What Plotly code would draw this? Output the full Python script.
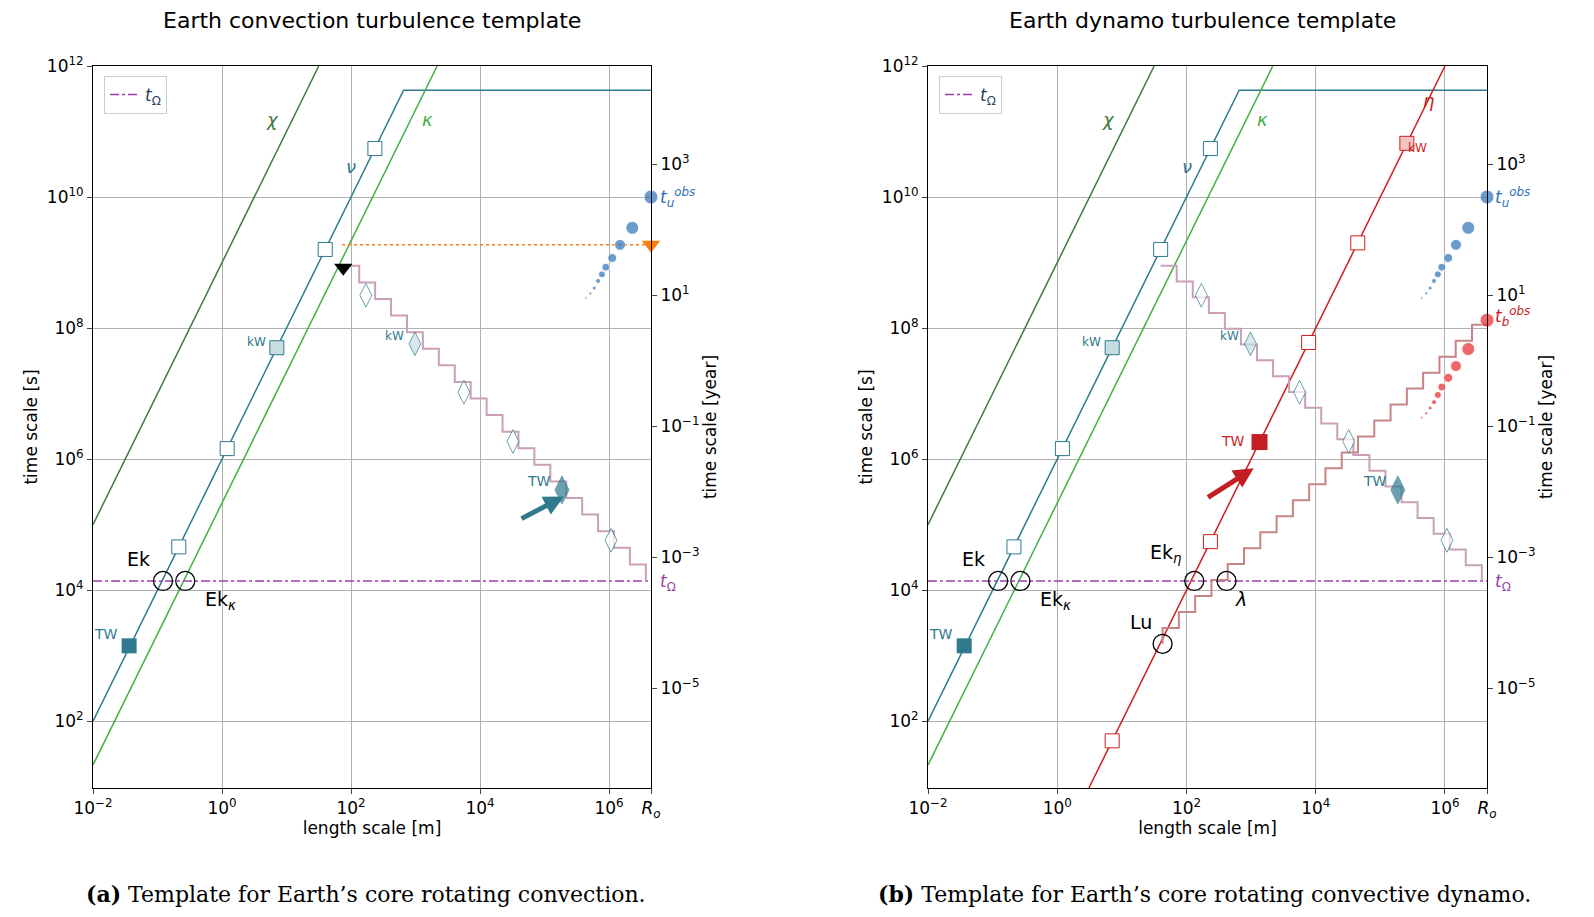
import plotly.graph_objects as go
import numpy as np

# ---- data (log10 values) ----
XMIN, XMAX = -2.0, 6.65
YMIN, YMAX = 0.98, 12.0
LOG_YEAR = 7.499
log_chi, log_nu, log_kappa, log_eta = -9.0, -6.0, -5.33, 0.0
t_sat = 11.63            # upper plateau of nu line
t_omega = 4.14
nu_sq_L = [2.37, 1.60, 0.85, 0.08, -0.67]
tw_sq = (-1.44, 3.15)
eta_sq_L = [0.85, 2.37, 3.89, 4.65, 5.41]
tw_eta = (3.13, 6.26)
dia_L = [2.23, 2.99, 3.75, 4.51, 5.27, 6.03]
dia_t = [8.50, 7.76, 7.02, 6.27, 5.53, 4.76]
obs_L = [6.65, 6.36, 6.17, 6.05, 5.95, 5.89, 5.83, 5.77, 5.71, 5.64]
obs_u_t = [10.0, 9.53, 9.27, 9.07, 8.93, 8.82, 8.72, 8.61, 8.53, 8.46]
obs_b_t = [8.12, 7.68, 7.42, 7.24, 7.10, 6.98, 6.87, 6.78, 6.70, 6.63]
obs_size = [14, 13, 11, 9, 8, 7, 5, 4, 3, 2.5]
tri_black = (1.88, 8.92)
t_orange = 9.27
stair_down_L = (1.88, 6.57)
stair_down_R = (1.60, 6.57)
stair_down_t = (8.95, 4.14)
stair_up = ((1.63, 3.18), (6.67, 8.05))
circ_left = [(-0.915, t_omega), (-0.57, t_omega)]
circ_right = [(-0.915, t_omega), (-0.57, t_omega), (2.12, t_omega), (2.62, t_omega), (1.63, 3.18)]

TEAL = "#2f7a8c"; DGREEN = "#3d7a3d"; LGREEN = "#44b044"; RED = "#cc1f1f"
PURPLE = "#9b3fa8"; BLUE = "#2f72b8"; ORANGE = "#ff7f0e"

W, H = 1594, 917

def P(v):
    return [10**a for a in v]

def stairs(a, b, step=0.25):
    (x0, y0), (x1, y1) = a, b
    n = int(round(abs(x1 - x0) / step))
    xs, ys = [], []
    for i in range(n + 1):
        xs.append(x0 + (x1 - x0) * i / n); ys.append(y0 + (y1 - y0) * i / n)
    return P(xs), P(ys)

fig = go.Figure()

def add_panel(xa, ya, right):
    xr = "x" if xa == 1 else "x%d" % xa
    yr = "y" if ya == 1 else "y%d" % ya
    off = 835 if right else 0
    def tr(**k):
        fig.add_trace(go.Scatter(xaxis=xr, yaxis=yr, showlegend=False, **k))
    tr(x=P([XMIN, (YMAX + log_chi) / 2]), y=P([2*XMIN - log_chi, YMAX]), mode="lines", line=dict(color=DGREEN, width=1.5))
    Lsat = (t_sat + log_nu) / 2
    tr(x=P([XMIN, Lsat, XMAX]), y=P([2*XMIN - log_nu, t_sat, t_sat]), mode="lines", line=dict(color=TEAL, width=1.5))
    tr(x=P([XMIN, (YMAX + log_kappa) / 2]), y=P([2*XMIN - log_kappa, YMAX]), mode="lines", line=dict(color=LGREEN, width=1.5))
    if right:
        tr(x=P([(YMIN + log_eta) / 2, (YMAX + log_eta) / 2]), y=P([YMIN, YMAX]), mode="lines", line=dict(color=RED, width=1.5))
    fig.add_trace(go.Scatter(xaxis=xr, yaxis=yr, x=P([XMIN, XMAX]), y=P([t_omega, t_omega]), mode="lines",
                             line=dict(color=PURPLE, width=1.5, dash="dashdot"), name="<i>t</i><sub>Ω</sub>",
                             showlegend=True, legend="legend2" if right else "legend"))
    sL = stair_down_R if right else stair_down_L
    sx, sy = stairs((sL[0], stair_down_t[0]), (sL[1], stair_down_t[1]))
    tr(x=sx, y=sy, mode="lines", line=dict(color="#c9a0b8", width=2, shape="hv"))
    if right:
        sx, sy = stairs(*stair_up)
        tr(x=sx, y=sy, mode="lines", line=dict(color="#c58585", width=2, shape="vh"))
    tr(x=P(nu_sq_L), y=P([2*l - log_nu for l in nu_sq_L]), mode="markers",
       marker=dict(symbol="square", size=14, color=["white", "white", "#c8dde2", "white", "white"], line=dict(color=TEAL, width=1)))
    tr(x=P([tw_sq[0]]), y=P([tw_sq[1]]), mode="markers", marker=dict(symbol="square", size=15, color=TEAL))
    tr(x=P(dia_L), y=P(dia_t), mode="markers",
       marker=dict(symbol="diamond-tall", size=[17, 17, 17, 17, 20, 17],
                   color=["white", "#c8dde2", "white", "white", TEAL, "white"], line=dict(color=TEAL, width=1)))
    if not right:
        tr(x=P([tri_black[0]]), y=P([tri_black[1]]), mode="markers", marker=dict(symbol="triangle-down", size=16, color="black"))
        tr(x=P([1.86, XMAX]), y=P([t_orange, t_orange]), mode="lines", line=dict(color=ORANGE, width=1.5, dash="dot"))
        tr(x=P([XMAX]), y=P([t_orange]), mode="markers", marker=dict(symbol="triangle-down", size=16, color=ORANGE), cliponaxis=False)
    else:
        tr(x=P(eta_sq_L), y=P([2*l - log_eta for l in eta_sq_L]), mode="markers",
           marker=dict(symbol="square", size=14, color=["white"]*4 + ["#f2c4c4"], line=dict(color=RED, width=1)))
        tr(x=P([tw_eta[0]]), y=P([tw_eta[1]]), mode="markers", marker=dict(symbol="square", size=16, color="#c41e24"))
        tr(x=P(obs_L), y=P(obs_b_t), mode="markers", marker=dict(size=obs_size, color="#e8262a"), cliponaxis=False)
    tr(x=P(obs_L), y=P(obs_u_t), mode="markers", marker=dict(size=obs_size, color=BLUE), cliponaxis=False)
    circ = circ_right if right else circ_left
    tr(x=P([c[0] for c in circ]), y=P([c[1] for c in circ]), mode="markers",
       marker=dict(symbol="circle-open", size=19, color="black", line=dict(width=1.3)))
    def ann(x, y, text, color="black", size=17, **k):
        fig.add_annotation(xref=xr, yref=yr, x=x, y=y, text=text, showarrow=False,
                           font=dict(color=color, size=size, family="DejaVu Sans"), **k)
    def pann(px, py, text, color, size=17):
        fig.add_annotation(xref="paper", yref="paper", x=(px + off) / W, y=1 - py / H, text=text, showarrow=False,
                           xanchor="left", yanchor="middle", font=dict(color=color, size=size, family="DejaVu Sans"))
    ann(0.79, 11.18, "<i>χ</i>", DGREEN, 18)
    ann(2.0, 10.47, "<i>ν</i>", TEAL, 18)
    ann(3.18, 11.18, "<i>κ</i>", LGREEN, 18)
    ann(0.53, 7.78, "kW", TEAL, 12)
    ann(2.67, 7.88, "kW", TEAL, 12)
    ann(-1.8, 3.33, "TW", TEAL, 14)
    ann(4.92, 5.66, "TW", TEAL, 14)
    ann(-1.3, 4.47, "Ek", "black", 19)
    ann(-0.03, 3.84, "Ek<sub><i>κ</i></sub>", "black", 19)
    pann(650, 574, "<i>t</i><sub>Ω</sub>", PURPLE, 17)
    pann(650, 189, "<i>t<sub>u</sub><sup>obs</sup></i>", BLUE, 17)
    if right:
        ann(5.74, 11.47, "<i>η</i>", RED, 18)
        ann(5.58, 10.75, "kW", RED, 12)
        ann(2.72, 6.28, "TW", RED, 14)
        ann(1.67, 4.56, "Ek<sub><i>η</i></sub>", "black", 19)
        ann(2.85, 3.86, "<i>λ</i>", "black", 19)
        ann(1.29, 3.52, "Lu", "black", 19)
        pann(650, 308, "<i>t<sub>b</sub><sup>obs</sup></i>", RED, 17)
        fig.add_annotation(xref=xr, yref=yr, axref=xr, ayref=yr, x=3.04, y=5.86, ax=2.31, ay=5.40,
                           showarrow=True, arrowhead=2, arrowwidth=5, arrowsize=0.8, arrowcolor="#c41e24", text="")
    else:
        fig.add_annotation(xref=xr, yref=yr, axref=xr, ayref=yr, x=5.30, y=5.43, ax=4.62, ay=5.08,
                           showarrow=True, arrowhead=2, arrowwidth=5, arrowsize=0.8, arrowcolor=TEAL, text="")

add_panel(1, 1, False)
add_panel(2, 3, True)

dl = [85 / W, 643 / W]; dr = [920 / W, 1479 / W]
dy = [1 - 780 / H, 1 - 58 / H]
tf = dict(family="DejaVu Sans", size=17, color="black")

def xaxis(dom, anchor):
    return dict(domain=dom, anchor=anchor, type="log", range=[XMIN, XMAX], automargin=False,
                tickvals=P([-2, 0, 2, 4, 6, XMAX]),
                ticktext=["10<sup>−2</sup>", "10<sup>0</sup>", "10<sup>2</sup>", "10<sup>4</sup>", "10<sup>6</sup>", "<i>R<sub>o</sub></i>"],
                showgrid=True, gridcolor="#b0b0b0", gridwidth=1, showline=True, linecolor="black", mirror=True,
                ticks="outside", tickfont=tf, zeroline=False,
                title=dict(text="length scale [m]", font=tf, standoff=2))

def yaxis(anchor):
    return dict(domain=dy, anchor=anchor, type="log", range=[YMIN, YMAX], automargin=False,
                tickvals=P([2, 4, 6, 8, 10, 12]),
                ticktext=["10<sup>%d</sup>" % v for v in [2, 4, 6, 8, 10, 12]],
                showgrid=True, gridcolor="#b0b0b0", showline=True, linecolor="black", mirror=True,
                ticks="outside", tickfont=tf, title=dict(text="time scale [s]", font=tf, standoff=4))

def yaxis_year(anchor, over):
    return dict(domain=dy, anchor=anchor, overlaying=over, side="right", type="log", automargin=False,
                range=[YMIN - LOG_YEAR, YMAX - LOG_YEAR],
                tickvals=P([3, 1, -1, -3, -5]),
                ticktext=["10<sup>3</sup>", "10<sup>1</sup>", "10<sup>−1</sup>", "10<sup>−3</sup>", "10<sup>−5</sup>"],
                showgrid=False, ticks="outside", tickfont=tf,
                title=dict(text="time scale [year]", font=tf, standoff=4))

fig.update_layout(
    width=W, height=H, margin=dict(l=0, r=0, t=0, b=0, autoexpand=False), plot_bgcolor="white", paper_bgcolor="white",
    xaxis=xaxis(dl, "y"), yaxis=yaxis("x"), yaxis2=yaxis_year("x", "y"),
    xaxis2=xaxis(dr, "y3"), yaxis3=yaxis("x2"), yaxis4=yaxis_year("x2", "y3"),
    legend=dict(x=96 / W, y=1 - 68 / H, xanchor="left", yanchor="top", bordercolor="#cccccc", borderwidth=1,
                bgcolor="white", font=dict(size=17, family="DejaVu Sans")),
    legend2=dict(x=931 / W, y=1 - 68 / H, xanchor="left", yanchor="top", bordercolor="#cccccc", borderwidth=1,
                 bgcolor="white", font=dict(size=17, family="DejaVu Sans")),
)
fig.add_trace(go.Scatter(x=[1e-2], y=[1e-5], xaxis="x", yaxis="y2", mode="markers", marker=dict(opacity=0), showlegend=False, hoverinfo="skip"))
fig.add_trace(go.Scatter(x=[1e-2], y=[1e-5], xaxis="x2", yaxis="y4", mode="markers", marker=dict(opacity=0), showlegend=False, hoverinfo="skip"))

titf = dict(family="DejaVu Sans", size=22, color="black")
def cap(px, py, text, font):
    fig.add_annotation(xref="paper", yref="paper", x=px / W, y=1 - py / H, text=text, showarrow=False,
                       xanchor="center", yanchor="middle", font=font)
cap(364, 12, "Earth convection turbulence template", titf)
cap(1194, 12, "Earth dynamo turbulence template", titf)
capf = dict(family="DejaVu Serif", size=22, color="black")
cap(358, 886, "<b>(a)</b> Template for Earth’s core rotating convection.", capf)
cap(1196, 886, "<b>(b)</b> Template for Earth’s core rotating convective dynamo.", capf)

fig.write_html("out.html")
